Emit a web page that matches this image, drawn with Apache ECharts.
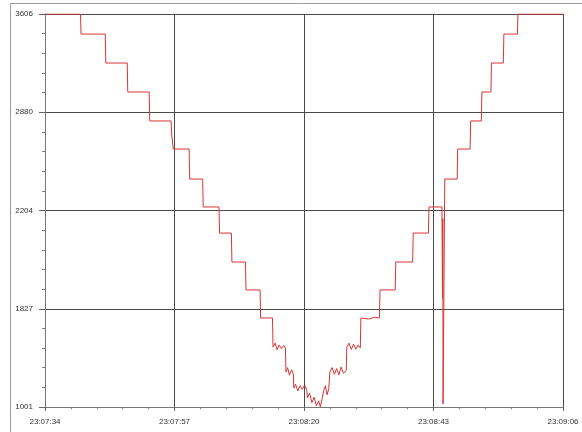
<!DOCTYPE html>
<html>
<head>
<meta charset="utf-8">
<script src="https://cdn.jsdelivr.net/npm/echarts@6/dist/echarts.min.js"></script>
<style>
html,body{margin:0;padding:0;background:#fff;}
#c{width:582px;height:432px;}
</style>
</head>
<body>
<div id="c"></div>
<script>
// Time labels (x axis) and value labels (y axis) as printed on the reference
var xLabels = ['23:07:34', '23:07:57', '23:08:20', '23:08:43', '23:09:06'];
var yLabels = ['1001', '1827', '2204', '2880', '3606'];

// seconds elapsed since 23:07:34
var times = [
  0, 6.3, 6.4, 10.7, 10.8, 14.6, 14.7, 18.5, 18.6, 22.4, 22.5, 22.7, 22.8, 25.6, 25.7, 28.0, 28.1, 30.9, 31.0, 33.1,
  33.2, 35.6, 35.7, 38.2, 38.3, 40.4, 40.5, 40.9, 41.2, 41.6, 42.0, 42.4, 42.7, 42.8, 43.1, 43.4, 43.8, 44.1,
  44.2, 44.5, 44.9, 45.3, 45.7, 46.1, 46.5, 46.6, 47.0, 47.4, 47.8, 48.2, 48.6, 48.9, 49.2, 49.5, 49.8, 50.1, 50.4,
  50.6, 51.0, 51.4, 51.8, 52.2, 52.6, 53.0, 53.5, 53.6, 54.0, 54.4, 54.8, 55.2, 55.6, 56.0, 56.1, 57.5, 58.5, 59.4,
  59.5, 62.2, 62.3, 65.3, 65.4, 68.1, 68.2, 70.5, 70.6, 70.65, 70.7, 71.0, 73.2, 73.3, 75.5, 75.6, 77.5, 77.6, 79.2,
  79.3, 81.4, 81.5, 83.9, 84.0, 92
];
var values = [
  3606, 3606, 3473, 3473, 3281, 3281, 3089, 3089, 2897, 2897, 2804, 2804, 2711, 2711, 2512, 2512, 2327, 2327, 2154, 2154,
  1962, 1962, 1777, 1777, 1591, 1591, 1399, 1425, 1380, 1412, 1388, 1408, 1392, 1233, 1262, 1212, 1248, 1222,
  1127, 1152, 1108, 1142, 1118, 1146, 1112, 1061, 1092, 1030, 1066, 1010, 1042, 1003, 1052, 1110, 1142, 1082, 1122,
  1233, 1262, 1218, 1256, 1214, 1266, 1224, 1242, 1399, 1424, 1382, 1418, 1384, 1412, 1392, 1591, 1584, 1596, 1591,
  1777, 1777, 1962, 1962, 2154, 2154, 2327, 2327, 1720, 2250, 1021, 2512, 2512, 2711, 2711, 2897, 2897, 3089, 3089,
  3281, 3281, 3473, 3473, 3606, 3606
];

var yMin = 1001, yMax = 3606;
var xMin = 0, xMax = 92;

var seriesData = times.map(function (t, i) { return [t, values[i]]; });

var chart = echarts.init(document.getElementById('c'), null, {renderer: 'canvas'});
var labelFont = {fontFamily: 'Liberation Sans, Arial, sans-serif', fontSize: 8, color: '#333'};

chart.setOption({
  animation: false,
  backgroundColor: '#ffffff',
  grid: {left: 45, right: 19, top: 14, bottom: 25, containLabel: false},
  graphic: [
    {type: 'line', shape: {x1: 10.5, y1: 3.5, x2: 10.5, y2: 432}, style: {stroke: '#9a9a9a', lineWidth: 1}, silent: true},
    {type: 'line', shape: {x1: 10.5, y1: 3.5, x2: 582, y2: 3.5}, style: {stroke: '#9a9a9a', lineWidth: 1}, silent: true}
  ],
  xAxis: {
    type: 'value',
    min: xMin, max: xMax, interval: (xMax - xMin) / 4,
    axisLine: {show: true, lineStyle: {color: '#777', width: 1}},
    axisTick: {show: true, inside: false, length: 4, lineStyle: {color: '#666'}},
    minorTick: {show: true, splitNumber: 5, length: 2, lineStyle: {color: '#777'}},
    splitLine: {show: true, lineStyle: {color: '#4a4a4a', width: 1}},
    axisLabel: Object.assign({
      margin: 11,
      formatter: function (v) { return xLabels[Math.round((v - xMin) / ((xMax - xMin) / 4))] || ''; }
    }, labelFont)
  },
  yAxis: {
    type: 'value',
    min: yMin, max: yMax, interval: (yMax - yMin) / 4,
    axisLine: {show: true, lineStyle: {color: '#777', width: 1}},
    axisTick: {show: true, inside: false, length: 6, lineStyle: {color: '#666'}},
    minorTick: {show: true, splitNumber: 5, length: 3, lineStyle: {color: '#777'}},
    splitLine: {show: true, lineStyle: {color: '#4a4a4a', width: 1}},
    axisLabel: Object.assign({
      margin: 12,
      formatter: function (v) { return yLabels[Math.round((v - yMin) / ((yMax - yMin) / 4))] || ''; }
    }, labelFont)
  },
  series: [{
    type: 'line',
    data: seriesData,
    showSymbol: false,
    symbol: 'none',
    lineStyle: {color: '#d83434', width: 1},
    clip: true
  }]
});
</script>
</body>
</html>
